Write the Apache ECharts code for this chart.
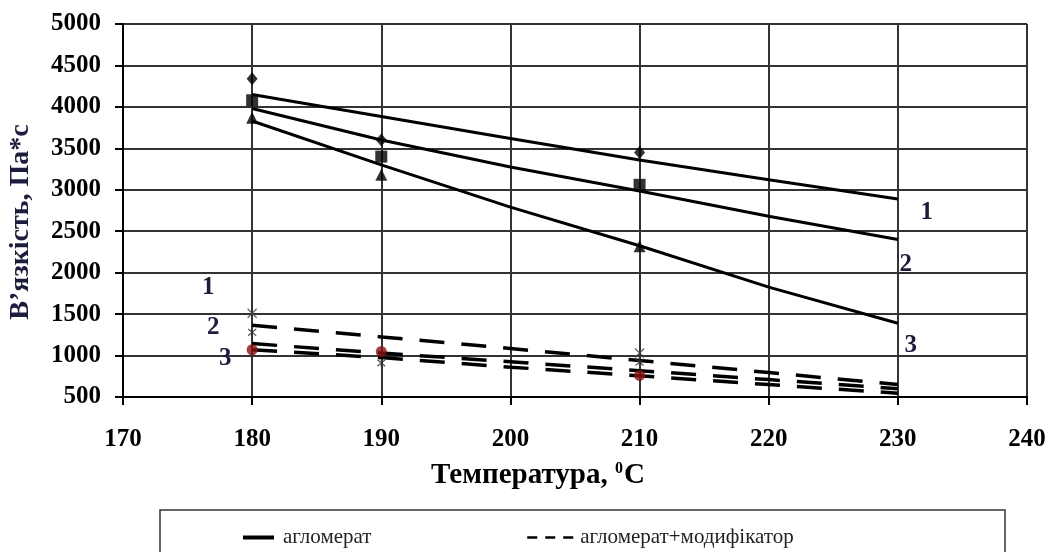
<!DOCTYPE html>
<html>
<head>
<meta charset="utf-8">
<script src="https://cdn.jsdelivr.net/npm/echarts@6/dist/echarts.min.js"></script>
<style>
  html, body { margin: 0; padding: 0; background: #fff; }
  #main { width: 1050px; height: 552px; }
</style>
</head>
<body>
<div id="main"></div>
<script>
var trendTemps = [180, 190, 200, 210, 220, 230];
var agg1Trend = [4150, 3885, 3618, 3360, 3120, 2890];
var agg2Trend = [3980, 3600, 3275, 2985, 2680, 2400];
var agg3Trend = [3830, 3300, 2790, 2325, 1825, 1390];
var mod1Trend = [1365, 1225, 1085, 940, 795, 650];
var mod2Trend = [1145, 1030, 925, 818, 710, 600];
var mod3Trend = [1070, 975, 860, 755, 650, 545];

// measured points
var pointTemps = [180, 190, 210];
var agg1Points = [4340, 3600, 3450];
var agg2Points = [4080, 3400, 3060];
var agg3Points = [3870, 3180, 2320];
var mod1Points = [1510, null, 1030];
var mod2Points = [1280, 910, 920];
var mod3Points = [1070, 1050, 760];

var xTicks = [170, 240, 10];
var yTicks = [500, 5000, 500];

var serif = "'Liberation Serif', 'DejaVu Serif', serif";
var navy = '#1c1c3c';

function pairs(xs, ys) {
    var out = [];
    for (var i = 0; i < xs.length; i++) {
        if (ys[i] != null) out.push([xs[i], ys[i]]);
    }
    return out;
}

function numberMark(xs, ys, idx, text, offset) {
    return {
        symbol: 'rect',
        symbolSize: 1,
        itemStyle: {color: 'transparent'},
        label: {
            show: true, position: 'inside', color: navy,
            fontFamily: serif, fontWeight: 'bold', fontSize: 25
        },
        data: [{coord: [xs[idx], ys[idx]], value: text, label: {formatter: text, offset: offset}}]
    };
}

function trend(name, ys, dashed, text, idx, offset) {
    return {
        name: name,
        type: 'line',
        symbol: 'none',
        silent: true,
        color: '#000',
        data: pairs(trendTemps, ys),
        lineStyle: {color: '#000', width: dashed ? 3.5 : 3, type: dashed ? [25, 17] : 'solid'},
        markPoint: numberMark(trendTemps, ys, idx, text, offset),
        z: 3
    };
}

function points(name, ys, symbol, size, style) {
    return {
        name: name,
        type: 'scatter',
        symbol: symbol,
        symbolSize: size,
        data: pairs(pointTemps, ys),
        itemStyle: style,
        z: 4
    };
}

var crossPath = 'path://M0,0L10,10M10,0L0,10';
var starPath = 'path://M0,0L10,10M10,0L0,10M5,-1L5,11';

var dom = document.getElementById('main');
var myChart = echarts.init(dom);

var tickFont = {color: '#000', fontFamily: serif, fontWeight: 'bold', fontSize: 25};

var option = {
    backgroundColor: '#fff',
    animation: false,
    grid: {left: 123, right: 23, top: 24, bottom: 155},
    xAxis: {
        type: 'value',
        min: xTicks[0], max: xTicks[1], interval: xTicks[2],
        axisLine: {lineStyle: {color: '#000', width: 2}},
        axisTick: {show: true, length: 8, lineStyle: {color: '#000', width: 2}},
        axisLabel: Object.assign({margin: 30}, tickFont),
        splitLine: {show: true, lineStyle: {color: '#333', width: 2}}
    },
    yAxis: {
        type: 'value',
        min: yTicks[0], max: yTicks[1], interval: yTicks[2],
        axisLine: {show: true, lineStyle: {color: '#000', width: 2}},
        axisTick: {show: true, length: 8, lineStyle: {color: '#000', width: 2}},
        axisLabel: Object.assign({margin: 22, formatter: function (v) { return String(v); }}, tickFont),
        splitLine: {show: true, lineStyle: {color: '#333', width: 2}}
    },
    legend: [
        {
            data: ['агломерат'],
            left: 236, top: 522,
            itemWidth: 31, itemHeight: 14,
            itemStyle: {color: 'transparent', borderWidth: 0, opacity: 0},
            lineStyle: {width: 4, color: '#000'},
            textStyle: {color: '#222', fontFamily: serif, fontSize: 21, padding: [0, 0, 0, 4]}
        },
        {
            data: ['агломерат+модифікатор'],
            left: 521, top: 522,
            itemWidth: 46, itemHeight: 14,
            itemStyle: {color: 'transparent', borderWidth: 0, opacity: 0},
            lineStyle: {width: 2.5, color: '#000', type: [10, 8]},
            textStyle: {color: '#222', fontFamily: serif, fontSize: 21, padding: [0, 0, 0, 2]}
        }
    ],
    graphic: [
        {
            type: 'rect',
            shape: {x: 160, y: 510, width: 845, height: 60},
            style: {fill: 'none', stroke: '#333', lineWidth: 1.5}
        },
        {
            type: 'text',
            x: 538, y: 476,
            style: {
                text: '{t|Температура, }{s|0}{t|C}',
                align: 'center', verticalAlign: 'middle',
                rich: {
                    t: {fontFamily: serif, fontWeight: 'bold', fontSize: 29, color: navy},
                    s: {fontFamily: serif, fontWeight: 'bold', fontSize: 16, color: navy, verticalAlign: 'top', padding: [0, 1, 14, 0]}
                }
            }
        },
        {
            type: 'text',
            x: 21, y: 222,
            rotation: Math.PI / 2,
            style: {
                text: 'В\u2019язкість, Па*с',
                align: 'center', verticalAlign: 'middle',
                fontFamily: serif, fontWeight: 'bold', fontSize: 28, fill: navy
            }
        }
    ],
    series: [
        trend('агломерат', agg1Trend, false, '1', 5, [29, 14]),
        trend('агломерат', agg2Trend, false, '2', 5, [8, 25]),
        trend('агломерат', agg3Trend, false, '3', 5, [13, 22]),
        trend('агломерат+модифікатор', mod1Trend, true, '1', 0, [-44, -38]),
        trend('агломерат+модифікатор', mod2Trend, true, '2', 0, [-39, -16]),
        trend('агломерат+модифікатор', mod3Trend, true, '3', 0, [-27, 9]),
        points('p1', agg1Points, 'diamond', [11, 13], {color: '#000'}),
        points('p2', agg2Points, 'rect', 12, {color: '#000'}),
        points('p3', agg3Points, 'triangle', 12, {color: '#000'}),
        points('m1', mod1Points, crossPath, 9, {color: 'transparent', borderColor: '#444', borderWidth: 1.3}),
        points('m2', mod2Points, starPath, 8, {color: 'transparent', borderColor: '#333', borderWidth: 1.3}),
        points('m3', mod3Points, 'circle', 11, {color: '#8b1212'})
    ]
};

if (option && typeof option === 'object') {
    myChart.setOption(option, true);
}
</script>
</body>
</html>
